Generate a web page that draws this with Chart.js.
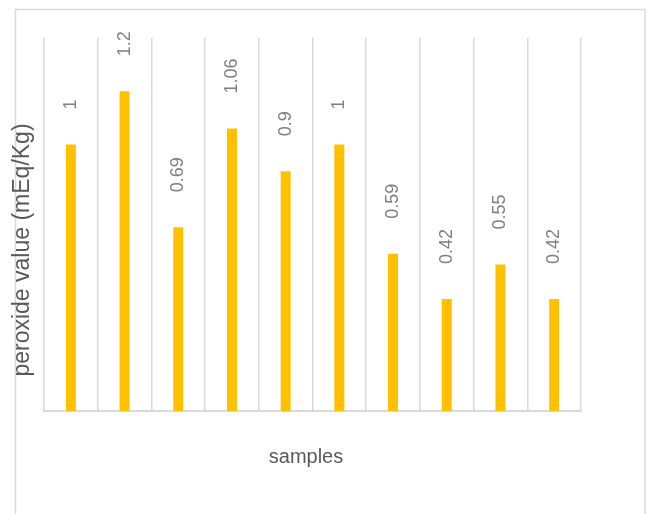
<!DOCTYPE html>
<html>
<head>
<meta charset="utf-8">
<script src="https://cdn.jsdelivr.net/npm/chart.js@4.4.0/dist/chart.umd.min.js"></script>
<style>
  html, body { margin: 0; padding: 0; background: #fff; }
  #wrap { width: 649px; height: 514px; }
</style>
</head>
<body>
<div id="wrap"><canvas id="grafico"></canvas></div>
<script>
const samples = ["1", "2", "3", "4", "5", "6", "7", "8", "9", "10"];
const peroxide = [1, 1.2, 0.69, 1.06, 0.9, 1, 0.59, 0.42, 0.55, 0.42];
const valueLabels = ["1", "1.2", "0.69", "1.06", "0.9", "1", "0.59", "0.42", "0.55", "0.42"];
const yTitle = "peroxide value (mEq/Kg)";
const xTitle = "samples";

// moldura externa + titulos + rotulos girados
const extras = {
  id: "extras",
  beforeDraw(chart) {
    const ctx = chart.ctx;
    ctx.save();
    ctx.strokeStyle = "#d9d9d9";
    ctx.lineWidth = 1.5;
    ctx.beginPath();
    ctx.moveTo(15.5, 530);
    ctx.lineTo(15.5, 9.5);
    ctx.lineTo(645, 9.5);
    ctx.lineTo(645, 530);
    ctx.stroke();
    ctx.restore();
  },
  afterDraw(chart) {
    const ctx = chart.ctx;
    const x = chart.scales.x;
    const y = chart.scales.y;
    ctx.save();
    ctx.fillStyle = "#808080";
    ctx.font = "18px 'Liberation Sans', Arial, sans-serif";
    ctx.textAlign = "left";
    ctx.textBaseline = "middle";
    peroxide.forEach((v, i) => {
      const px = x.getPixelForValue(i);
      const py = y.getPixelForValue(v) - 35;
      ctx.save();
      ctx.translate(px, py);
      ctx.rotate(-Math.PI / 2);
      ctx.fillText(valueLabels[i], 0, 0);
      ctx.restore();
    });

    ctx.fillStyle = "#595959";
    ctx.font = "23px 'Liberation Sans', Arial, sans-serif";
    ctx.textAlign = "center";
    ctx.save();
    ctx.translate(23, 250);
    ctx.rotate(-Math.PI / 2);
    ctx.fillText(yTitle, 0, 0);
    ctx.restore();

    ctx.font = "20px 'Liberation Sans', Arial, sans-serif";
    ctx.fillText(xTitle, 306, 457);
    ctx.restore();
  }
};

new Chart(document.getElementById("grafico"), {
  type: "bar",
  data: {
    labels: samples,
    datasets: [{
      label: yTitle,
      data: peroxide,
      backgroundColor: "#ffc000",
      categoryPercentage: 1,
      barPercentage: 0.186
    }]
  },
  options: {
    responsive: true,
    maintainAspectRatio: false,
    animation: false,
    layout: { padding: { left: 44, right: 68, top: 38, bottom: 103 } },
    plugins: {
      legend: { display: false },
      tooltip: { enabled: false }
    },
    scales: {
      x: {
        ticks: { display: false },
        grid: { display: true, offset: true, drawTicks: false, color: "#d9d9d9", lineWidth: 1.5 },
        border: { display: true, color: "#d9d9d9", width: 2 }
      },
      y: {
        display: false,
        min: 0,
        max: 1.4
      }
    }
  },
  plugins: [extras]
});
</script>
</body>
</html>
